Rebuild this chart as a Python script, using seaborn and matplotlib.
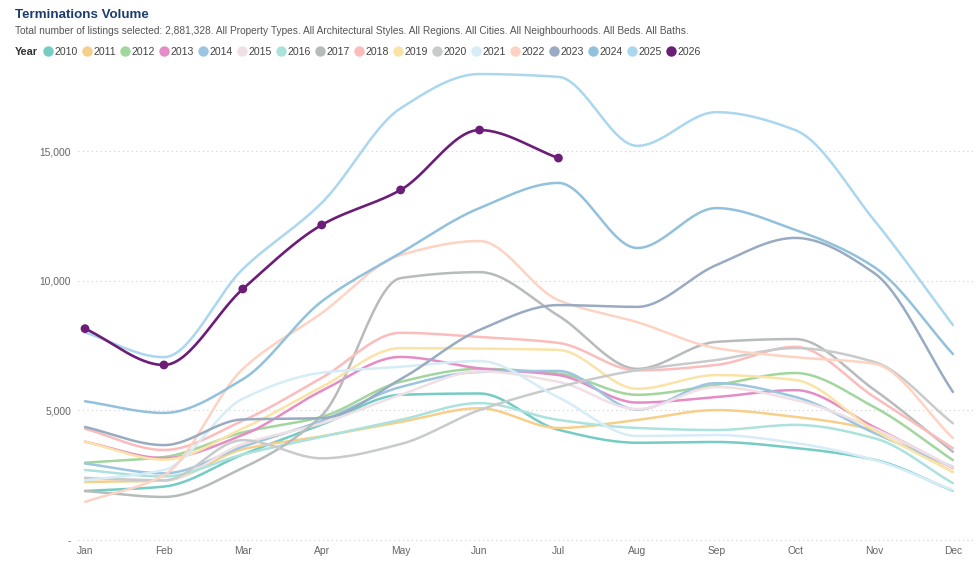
import numpy as np
import pandas as pd
import matplotlib
import matplotlib.pyplot as plt
from matplotlib.lines import Line2D
import seaborn as sns
matplotlib.use('Agg')

months = ['Jan', 'Feb', 'Mar', 'Apr', 'May', 'Jun', 'Jul', 'Aug', 'Sep', 'Oct', 'Nov', 'Dec']

# monthly terminations
y2010 = [1890, 2060, 3300, 4450, 5600, 5650, 4250, 3750, 3780, 3550, 3100, 1900]
y2011 = [2240, 2290, 3500, 4000, 4550, 5080, 4320, 4630, 5010, 4750, 4240, 2620]
y2012 = [2980, 3200, 4150, 4750, 6100, 6600, 6420, 5600, 5980, 6440, 5130, 3080]
y2013 = [3790, 3160, 4050, 5750, 7060, 6620, 6360, 5300, 5510, 5780, 4360, 2780]
y2014 = [2950, 2570, 3600, 4600, 5900, 6480, 6520, 5030, 6050, 5520, 4130, 2820]
y2015 = [2400, 2300, 3700, 4500, 5600, 6500, 6100, 5050, 5900, 5400, 4300, 2800]
y2016 = [2700, 2450, 3300, 3980, 4630, 5280, 4630, 4320, 4240, 4440, 3930, 2190]
y2017 = [1890, 1660, 2780, 4800, 10100, 10330, 8650, 6600, 7640, 7750, 5800, 3400]
y2018 = [4290, 3470, 4600, 6250, 7990, 7830, 7600, 6540, 6750, 7450, 5520, 3540]
y2019 = [3790, 3100, 4300, 5900, 7400, 7380, 7330, 5830, 6360, 6170, 4240, 2620]
y2020 = [2390, 2300, 3850, 3150, 3700, 5010, 5900, 6550, 6940, 7400, 6870, 4500]
y2021 = [2300, 2700, 5450, 6450, 6680, 6900, 5500, 4010, 4050, 3740, 3090, 1920]
y2022 = [1470, 2500, 6600, 8750, 10990, 11530, 9250, 8400, 7400, 7050, 6800, 3930]
y2023 = [4360, 3660, 4650, 4700, 6200, 8100, 9060, 8990, 10600, 11650, 10300, 5710]
y2024 = [5350, 4900, 6200, 9200, 11070, 12800, 13770, 11260, 12800, 11960, 10530, 7170]
y2025 = [8000, 7050, 10450, 13000, 16650, 17970, 17860, 15200, 16500, 15810, 12340, 8290]
y2026 = [8150, 6750, 9680, 12150, 13500, 15810, 14730]

years = [str(y) for y in range(2010, 2027)]
series = [y2010, y2011, y2012, y2013, y2014, y2015, y2016, y2017, y2018,
          y2019, y2020, y2021, y2022, y2023, y2024, y2025, y2026]

colors = ['#74ccc4', '#f6cf8a', '#a2d69d', '#e58cc6', '#9cc6df', '#f0e0e6',
          '#abe2dc', '#b7bbbb', '#fbbcbc', '#fae3a6', '#c8cbcb', '#d6ecf7',
          '#fdd3c3', '#99abc2', '#91c1dc', '#abd7ee', '#6b1d78']
palette = dict(zip(years, colors))


def monotone_smooth(y, n=30):
    # Fritsch-Carlson style monotone cubic, just for drawing the curve
    y = np.asarray(y, dtype=float)
    x = np.arange(len(y), dtype=float)
    h = np.diff(x)
    d = np.diff(y) / h
    m = np.zeros_like(y)
    m[0], m[-1] = d[0], d[-1]
    for k in range(1, len(y) - 1):
        if d[k - 1] * d[k] <= 0:
            m[k] = 0
        else:
            m[k] = 3 * (h[k - 1] + h[k]) / ((2 * h[k] + h[k - 1]) / d[k - 1] + (h[k] + 2 * h[k - 1]) / d[k])
    xs, ys = [], []
    for k in range(len(y) - 1):
        t = np.linspace(0, 1, n, endpoint=False)
        h00 = 2 * t**3 - 3 * t**2 + 1
        h10 = t**3 - 2 * t**2 + t
        h01 = -2 * t**3 + 3 * t**2
        h11 = t**3 - t**2
        xs.append(x[k] + t * h[k])
        ys.append(h00 * y[k] + h10 * h[k] * m[k] + h01 * y[k + 1] + h11 * h[k] * m[k + 1])
    xs.append([x[-1]])
    ys.append([y[-1]])
    return np.concatenate(xs), np.concatenate(ys)


rows = []
for yr, vals in zip(years, series):
    xs, ys = monotone_smooth(vals)
    rows.append(pd.DataFrame({'month': xs, 'value': ys, 'year': yr}))
df = pd.concat(rows, ignore_index=True)
pts = pd.DataFrame({'month': np.arange(len(y2026)), 'value': y2026, 'year': '2026'})

sns.set_style('white')
plt.rcParams['font.family'] = ['Liberation Sans', 'DejaVu Sans']

fig = plt.figure(figsize=(9.8, 5.7), dpi=100)
ax = fig.add_axes([78 / 980, 25 / 570, 897 / 980, 480 / 570])

past = df[df['year'] != '2026']
sns.lineplot(data=past, x='month', y='value', hue='year', palette=palette,
             linewidth=1.8, legend=False, ax=ax, sort=False, estimator=None)
sns.lineplot(data=df[df['year'] == '2026'], x='month', y='value', color=palette['2026'],
             linewidth=1.9, legend=False, ax=ax, sort=False, estimator=None)
sns.scatterplot(data=pts, x='month', y='value', color=palette['2026'], s=40,
                edgecolor='none', legend=False, ax=ax, zorder=5)

ax.set_xlim(-0.089, 11.28)
ax.set_ylim(-193, 18318)
ax.set_xticks(range(12))
ax.set_xticklabels(months)
ax.set_yticks([0, 5000, 10000, 15000])
ax.set_yticklabels(['-', '5,000', '10,000', '15,000'])
ax.tick_params(axis='both', length=0, labelsize=7.4, colors='#666666')
ax.tick_params(axis='y', pad=5)
ax.tick_params(axis='x', pad=1)
ax.set_xlabel('')
ax.set_ylabel('')
for s in ax.spines.values():
    s.set_visible(False)
ax.yaxis.grid(True, linestyle=(0, (1, 3)), color='#d0d0d0', linewidth=0.8)
ax.xaxis.grid(False)
ax.set_axisbelow(True)

fig.text(15 / 980, 1 - 15 / 570, 'Terminations Volume', fontsize=9.6, fontweight='bold',
         color='#1d3c6e', va='center', ha='left')
fig.text(15 / 980, 1 - 31 / 570,
         'Total number of listings selected: 2,881,328. All Property Types. All Architectural Styles. '
         'All Regions. All Cities. All Neighbourhoods. All Beds. All Baths.',
         fontsize=7.3, color='#555555', va='center', ha='left')
fig.text(15 / 980, 1 - 52 / 570, 'Year', fontsize=7.8, fontweight='bold',
         color='#333333', va='center', ha='left')

handles = [Line2D([0], [0], marker='o', linestyle='', markersize=7.5,
                  markerfacecolor=palette[y], markeredgecolor='none') for y in years]
fig.legend(handles, years, loc='center left', bbox_to_anchor=(43 / 980, 1 - 52 / 570),
           ncol=len(years), frameon=False, fontsize=7.6, handlelength=0.9,
           handletextpad=0.2, columnspacing=0.38, borderpad=0, borderaxespad=0,
           labelcolor='#444444')

fig.savefig('out.png', dpi=100)
